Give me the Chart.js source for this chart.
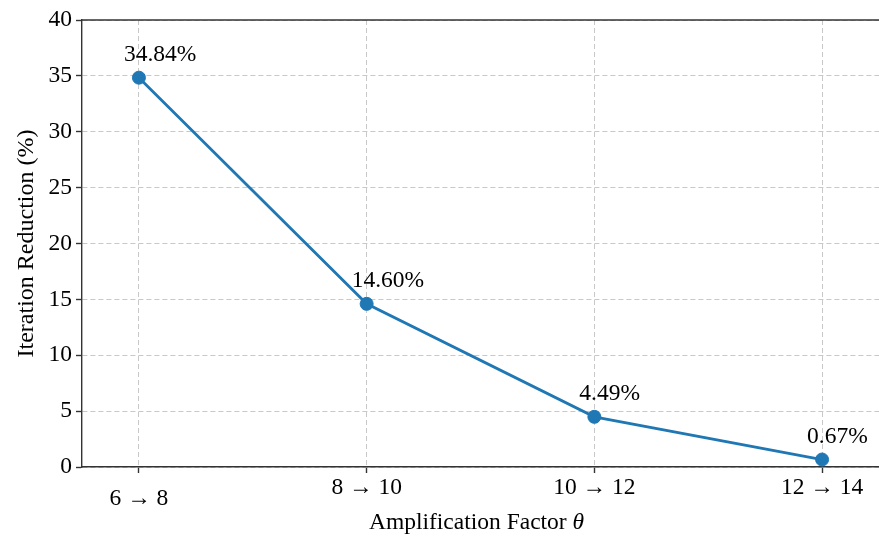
<!DOCTYPE html>
<html>
<head>
<meta charset="utf-8">
<script src="https://cdn.jsdelivr.net/npm/chart.js@4/dist/chart.umd.min.js"></script>
<style>
html,body{margin:0;padding:0;background:#fff;}
#wrap{width:879px;height:536px;position:relative;}
</style>
</head>
<body>
<div id="wrap"><canvas id="c" width="879" height="536"></canvas></div>
<script>
const categories = ["6 \u2192 8", "8 \u2192 10", "10 \u2192 12", "12 \u2192 14"];
const reduction = [34.84, 14.60, 4.49, 0.67];
const valueLabels = ["34.84%", "14.60%", "4.49%", "0.67%"];
const yTicks = [0, 5, 10, 15, 20, 25, 30, 35, 40];
const xTitleMain = "Amplification Factor ";
const xTitleSymbol = "\u03b8";

const FONT = "'Liberation Serif', 'Times New Roman', serif";
const SPINE = '#333333';
const FS = 23.5;

const topSpine = {
  id: 'topSpine',
  afterDraw(chart) {
    const a = chart.chartArea, ctx = chart.ctx;
    ctx.save();
    ctx.strokeStyle = SPINE;
    ctx.lineWidth = 1.4;
    ctx.beginPath();
    ctx.moveTo(a.left, a.top);
    ctx.lineTo(a.right + 2, a.top);
    ctx.stroke();
    // x axis title with italic theta
    ctx.fillStyle = '#000';
    ctx.textBaseline = 'middle';
    ctx.textAlign = 'left';
    ctx.font = FS + 'px ' + FONT;
    const w1 = ctx.measureText(xTitleMain).width;
    ctx.font = 'italic ' + FS + 'px ' + FONT;
    const w2 = ctx.measureText(xTitleSymbol).width;
    const cx = (a.left + a.right) / 2 - 4;
    const x0 = cx - (w1 + w2) / 2;
    const y = chart.height - 13;
    ctx.font = FS + 'px ' + FONT;
    ctx.fillText(xTitleMain, x0, y);
    ctx.font = 'italic ' + FS + 'px ' + FONT;
    ctx.fillText(xTitleSymbol, x0 + w1, y);
    ctx.restore();
  }
};

const valueLabelPlugin = {
  id: 'valueLabels',
  afterDatasetsDraw(chart) {
    const meta = chart.getDatasetMeta(0);
    const ctx = chart.ctx;
    ctx.save();
    ctx.font = FS + 'px ' + FONT;
    ctx.fillStyle = '#000';
    ctx.textAlign = 'left';
    ctx.textBaseline = 'middle';
    meta.data.forEach((pt, i) => {
      ctx.fillText(valueLabels[i], pt.x - 15, pt.y - 23);
    });
    ctx.restore();
  }
};

new Chart(document.getElementById('c'), {
  type: 'line',
  data: {
    datasets: [{
      data: reduction.map((v, i) => ({x: i, y: v})),
      borderColor: '#1f77b4',
      backgroundColor: '#1f77b4',
      borderWidth: 2.8,
      pointRadius: 6.5,
      pointBorderWidth: 1,
      pointHoverRadius: 6.5,
      tension: 0,
      fill: false,
      clip: false
    }]
  },
  options: {
    responsive: false,
    animation: false,
    events: [],
    layout: {autoPadding: false, padding: {top: 20, right: 0, left: 0, bottom: 0}},
    plugins: {legend: {display: false}, tooltip: {enabled: false}},
    scales: {
      x: {
        type: 'linear',
        min: -0.25,
        max: 3.25,
        afterBuildTicks(scale) {
          scale.ticks = categories.map((c, i) => ({value: i}));
        },
        afterFit(scale) { scale.height = 69; scale.paddingLeft = 0; scale.paddingRight = 0; },
        ticks: {
          callback: (v) => categories[v],
          color: '#000',
          padding: 1,
          maxRotation: 0,
          autoSkip: false,
          font: (ctx) => ({family: FONT, size: FS, lineHeight: ctx.index === 0 ? 2.08 : 1.2})
        },
        grid: {
          color: '#c8c8c8',
          lineWidth: 1,
          tickColor: SPINE,
          tickLength: 6,
          tickWidth: 1.4
        },
        border: {display: true, color: SPINE, width: 1.4, dash: [5, 3]},
        title: {display: false}
      },
      y: {
        min: 0,
        max: 40,
        afterBuildTicks(scale) {
          scale.ticks = yTicks.map(v => ({value: v}));
        },
        afterFit(scale) { scale.width = 82; },
        ticks: {
          color: '#000',
          padding: 4,
          font: {family: FONT, size: FS}
        },
        grid: {
          color: '#c8c8c8',
          lineWidth: 1,
          tickColor: SPINE,
          tickLength: 6,
          tickWidth: 1.4
        },
        border: {display: true, color: SPINE, width: 1.4, dash: [5, 3]},
        title: {
          display: true,
          text: 'Iteration Reduction (%)',
          color: '#000',
          font: {family: FONT, size: 24},
          padding: {top: 12, bottom: 4}
        }
      }
    }
  },
  plugins: [topSpine, valueLabelPlugin]
});
</script>
</body>
</html>
